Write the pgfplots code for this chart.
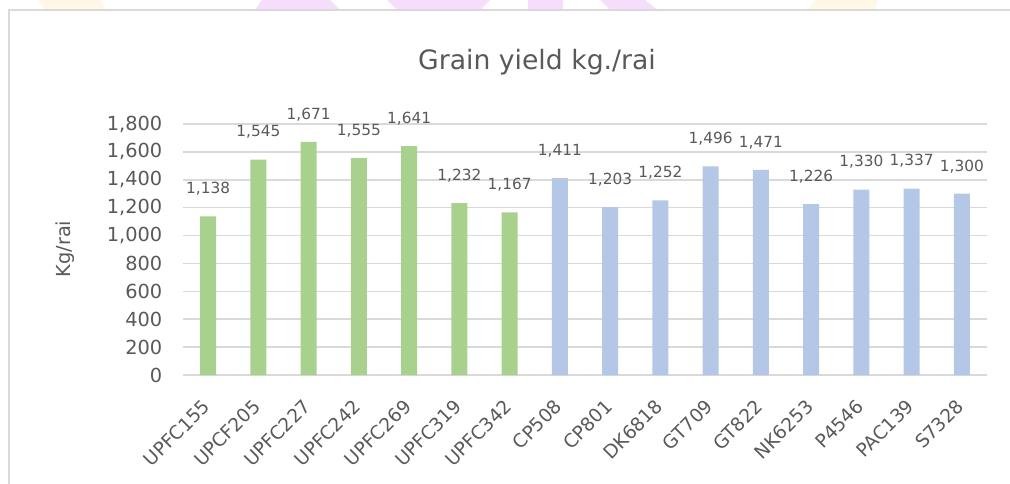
\documentclass[border=0pt]{standalone}
\usepackage{pgfplots}
\pgfplotsset{compat=1.18}
\usepackage{fontspec}
\setmainfont{DejaVu Sans}
\definecolor{txt}{HTML}{595959}
\definecolor{grn}{HTML}{A9D18E}
\definecolor{blu}{HTML}{B4C7E7}
\definecolor{grd}{HTML}{D9D9D9}
\definecolor{wpink}{HTML}{F6DDFB}
\definecolor{wyel}{HTML}{FFF8E6}
\begin{document}
\begin{tikzpicture}
\begin{scope}[x=0.75pt,y=-0.75pt]
\path[use as bounding box] (0,0) rectangle (1010,484);
\fill[wyel] (38,0) -- (100,0) -- (106,10) -- (45,10) -- cycle;
\fill[wpink] (262,0) -- (330,0) -- (340,10) -- (255,10) -- cycle;
\fill[wpink] (387,0) -- (490,0) -- (480,10) -- (397,10) -- cycle;
\fill[wpink] (528,0) -- (563,0) -- (563,10) -- (528,10) -- cycle;
\fill[wpink] (600,0) -- (645,0) -- (658,10) -- (610,10) -- cycle;
\fill[wyel] (815,0) -- (877,0) -- (875,10) -- (808,10) -- cycle;
\draw[grd, line width=1.2pt] (9,530) -- (9,10) -- (1030,10);
\node[text=txt, font=\fontsize{20}{24}\selectfont] at (537,62) {Grain yield kg./rai};
\node[text=txt, rotate=90, font=\fontsize{14.5}{17}\selectfont] at (65,249) {Kg/rai};
\coordinate (org) at (183,375);
\end{scope}
\begin{axis}[
  at={(org)}, anchor=south west,
  scale only axis, width=603pt, height=188.25pt,
  xmin=-0.5, xmax=15.5, ymin=0, ymax=1800,
  ytick={0,200,...,1800},
  ymajorgrids, grid style={grd, line width=1.1pt},
  axis x line*=bottom, axis y line*=left,
  x axis line style={draw=grd, line width=1.1pt, -},
  y axis line style={draw=none},
  major tick length=0pt,
  xtick={0,...,15},
  xticklabels={UPFC155,UPCF205,UPFC227,UPFC242,UPFC269,UPFC319,UPFC342,CP508,CP801,DK6818,GT709,GT822,NK6253,P4546,PAC139,S7328},
  x tick label style={xshift=-1pt, yshift=-21pt, rotate=45, anchor=east, inner sep=0pt, font=\fontsize{14}{16}\selectfont, text=txt},
  y tick label style={font=\fontsize{14.5}{17}\selectfont, text=txt, xshift=-12pt},
  /pgf/number format/assume math mode=true,
  /pgf/number format/1000 sep={,},
  ybar, bar width=12pt, bar shift=0pt,
  nodes near coords,
  nodes near coords style={font=\fontsize{11.5}{14}\selectfont, text=txt, anchor=base, inner sep=0pt, yshift=17pt, /pgf/number format/1000 sep={,}},
  clip=false,
]
\addplot[fill=grn, draw=none] coordinates {(0,1138) (1,1545) (2,1671) (3,1555) (4,1641) (5,1232) (6,1167)};
\addplot[fill=blu, draw=none] coordinates {(7,1411) (8,1203) (9,1252) (10,1496) (11,1471) (12,1226) (13,1330) (14,1337) (15,1300)};
\end{axis}
\end{tikzpicture}
\end{document}
